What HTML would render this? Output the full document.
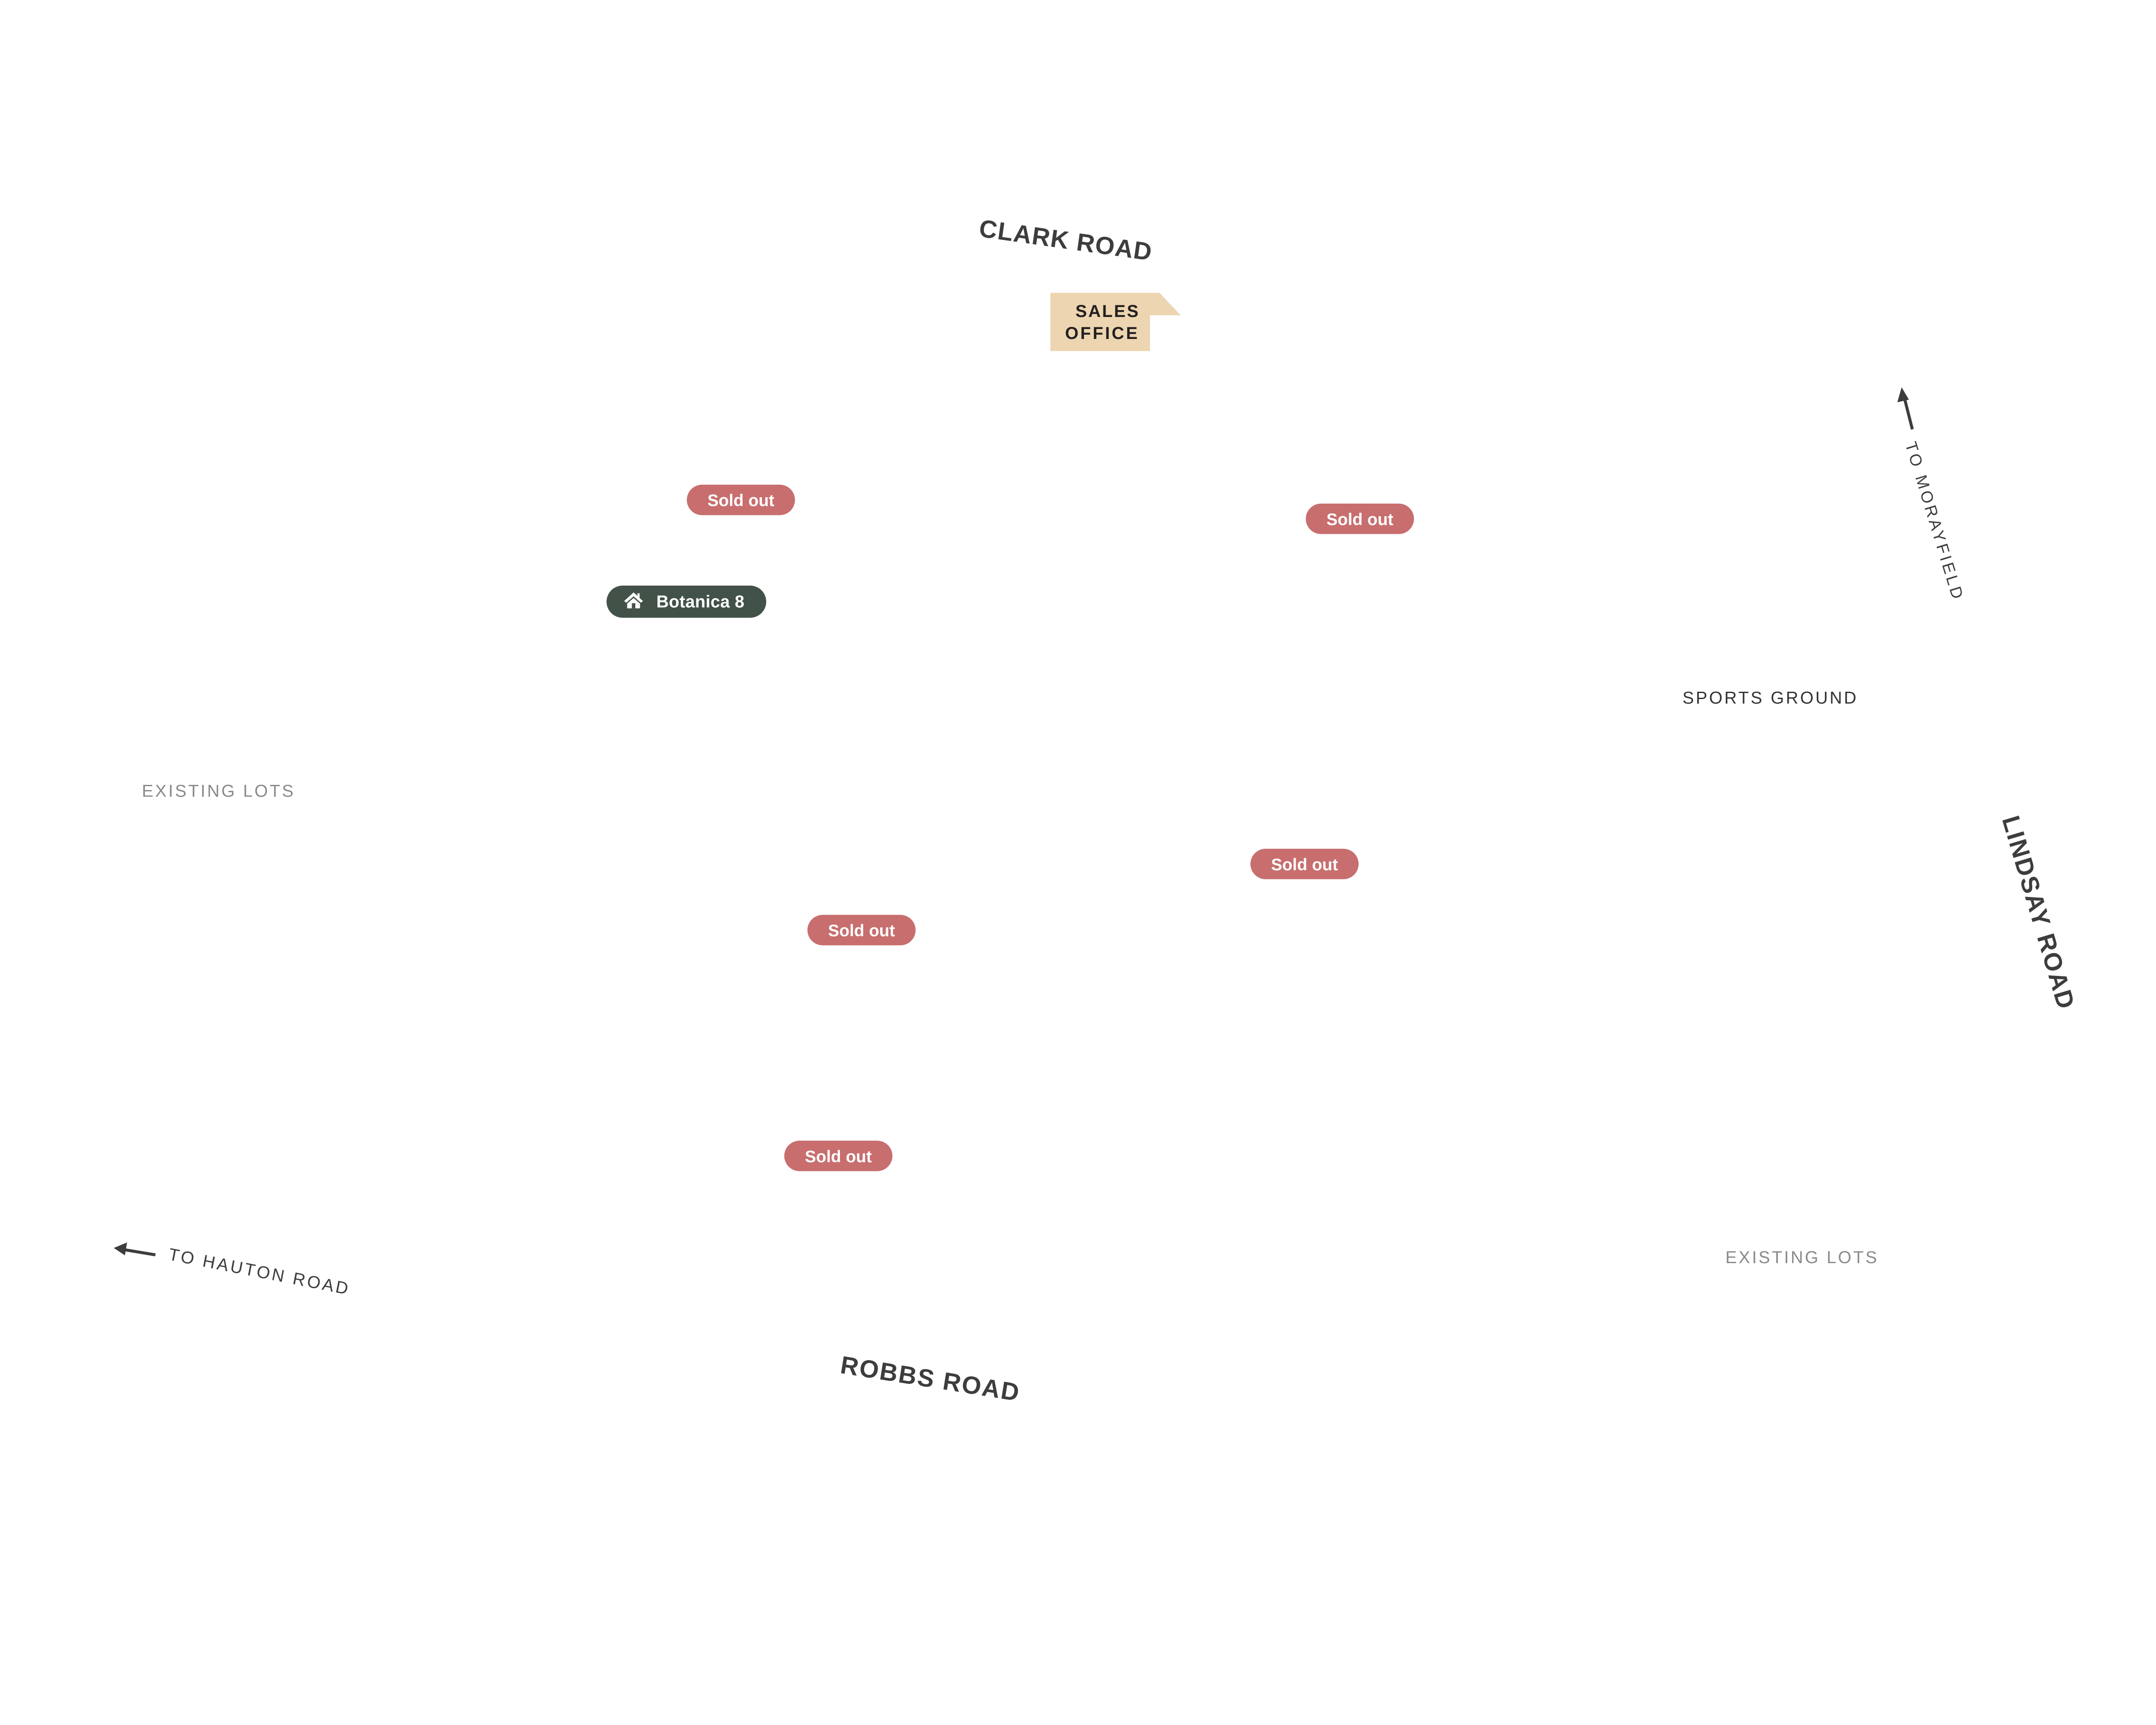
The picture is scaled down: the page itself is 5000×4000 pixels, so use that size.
<!DOCTYPE html>
<html><head><meta charset="utf-8"><style>
html,body{margin:0;padding:0;background:#fff;}
svg{display:block;}
text{font-family:"Liberation Sans",sans-serif;}
</style></head><body>
<svg width="5000" height="4000" viewBox="0 0 5000 4000" xmlns="http://www.w3.org/2000/svg">
<rect width="5000" height="4000" fill="#fff"/>
<g transform="scale(0.9955)">
<!-- Clark Road -->
<text x="2482" y="560" transform="rotate(8 2482 560)" text-anchor="middle" dominant-baseline="central" font-size="58" font-weight="bold" fill="#3d3d3f" textLength="405" lengthAdjust="spacing">CLARK ROAD</text>
</g>
<!-- Sales office -->
<polygon points="2436,679 2689,679 2738,731 2667,731 2667,814 2436,814" fill="#ecd5b0"/>
<text x="2567" y="735" text-anchor="middle" font-size="40" font-weight="bold" fill="#231f20" textLength="146" lengthAdjust="spacing">SALES</text>
<text x="2554" y="786" text-anchor="middle" font-size="40" font-weight="bold" fill="#231f20" textLength="168" lengthAdjust="spacing">OFFICE</text>
<g transform="scale(0.9955)">
<!-- Sold out pills -->
<g font-size="39" font-weight="bold" fill="#fff" text-anchor="middle">
<rect x="1600" y="1129" width="252" height="71" rx="35.5" fill="#c86e6e"/><text x="1726" y="1179">Sold out</text>
<rect x="3042" y="1173" width="252" height="71" rx="35.5" fill="#c86e6e"/><text x="3168" y="1223">Sold out</text>
<rect x="2913" y="1977" width="252" height="71" rx="35.5" fill="#c86e6e"/><text x="3039" y="2027">Sold out</text>
<rect x="1881" y="2131" width="252" height="71" rx="35.5" fill="#c86e6e"/><text x="2007" y="2181">Sold out</text>
<rect x="1827" y="2657" width="252" height="71" rx="35.5" fill="#c86e6e"/><text x="1953" y="2707">Sold out</text>
</g>
<!-- Botanica -->
<g transform="translate(6,6)">
<rect x="1407" y="1358" width="372" height="75" rx="37.5" fill="#435248"/>
<g fill="#fff">
<polygon points="1470,1374 1448,1394 1453,1398 1470,1383 1487,1398 1492,1394 1484,1387 1484,1376 1479,1376 1479,1382"/>
<polygon points="1455,1400 1470,1387 1485,1400 1485,1411 1455,1411"/>
</g>
<rect x="1466" y="1399" width="8" height="12" fill="#435248"/>
<text x="1523" y="1409" font-size="40" font-weight="bold" fill="#fff" textLength="205" lengthAdjust="spacing">Botanica 8</text>
</g>
<!-- To Morayfield -->
<line x1="4455" y1="1000" x2="4436" y2="925" stroke="#3d3d3f" stroke-width="7"/>
<polygon points="4430,902 4420,937 4447,931" fill="#3d3d3f"/>
<text x="4505" y="1212" transform="rotate(73 4505 1212)" text-anchor="middle" dominant-baseline="central" font-size="38" fill="#3d3d3f" textLength="380" lengthAdjust="spacing">TO MORAYFIELD</text>
<!-- Lindsay Road -->
<text x="4748" y="2125" transform="rotate(73.5 4748 2125)" text-anchor="middle" dominant-baseline="central" font-size="58" font-weight="bold" fill="#3d3d3f" textLength="465" lengthAdjust="spacing">LINDSAY ROAD</text>
<!-- Sports ground -->
<text x="4122" y="1626" text-anchor="middle" dominant-baseline="central" font-size="40" fill="#333" textLength="405" lengthAdjust="spacing">SPORTS GROUND</text>
<!-- Existing lots -->
<text x="507" y="1843" text-anchor="middle" dominant-baseline="central" font-size="40" fill="#8a8a8a" textLength="353" lengthAdjust="spacing">EXISTING LOTS</text>
<text x="4196" y="2929" text-anchor="middle" dominant-baseline="central" font-size="40" fill="#8a8a8a" textLength="353" lengthAdjust="spacing">EXISTING LOTS</text>
<!-- To Hauton Road -->
<line x1="362" y1="2923" x2="290" y2="2911" stroke="#3d3d3f" stroke-width="7"/>
<polygon points="265,2907 296,2894 291,2924" fill="#3d3d3f"/>
<text x="602" y="2962" transform="rotate(11 602 2962)" text-anchor="middle" dominant-baseline="central" font-size="40" fill="#3d3d3f" textLength="425" lengthAdjust="spacing">TO HAUTON ROAD</text>
<!-- Robbs Road -->
<text x="2166" y="3212" transform="rotate(9 2166 3212)" text-anchor="middle" dominant-baseline="central" font-size="58" font-weight="bold" fill="#3d3d3f" textLength="420" lengthAdjust="spacing">ROBBS ROAD</text>
</g>
</svg>
</body></html>
